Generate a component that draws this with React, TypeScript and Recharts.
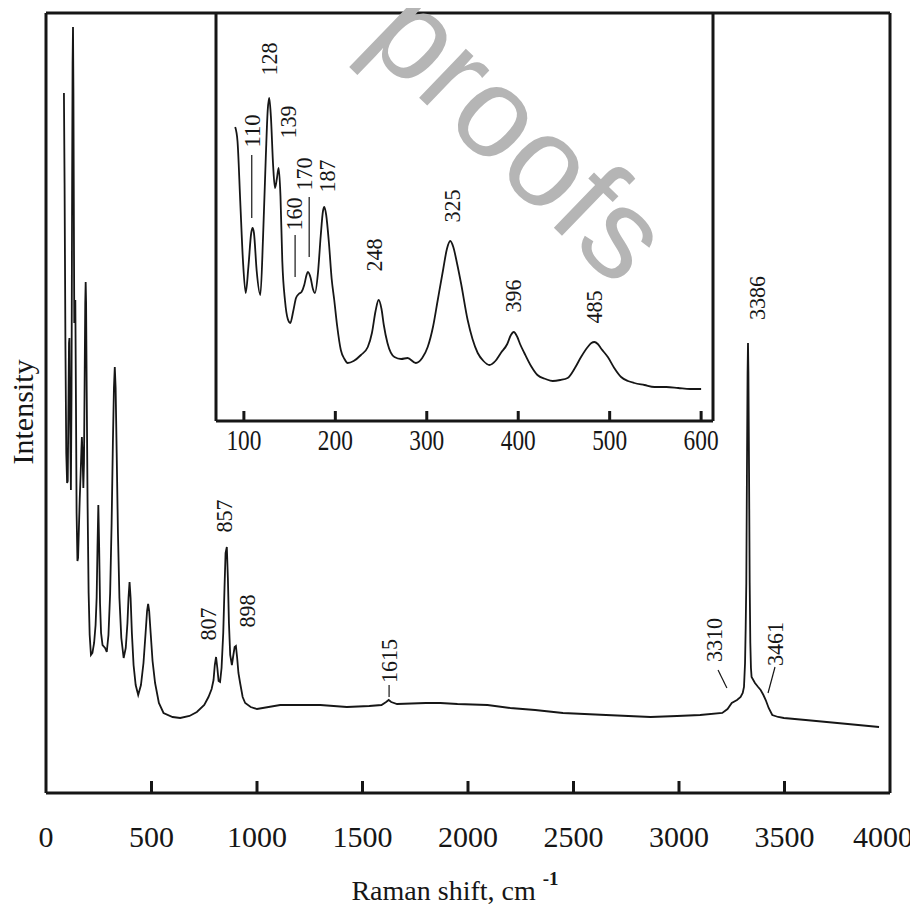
import { LineChart, Line, XAxis, YAxis, ReferenceDot, ReferenceLine } from "recharts";

// main spectrum, Raman shift (cm-1) vs intensity (arb.)
const mainShift = [
  85, 88, 92, 96, 100, 103, 106, 109, 111, 114, 118, 121, 124, 126, 128, 130, 132, 134, 136, 139,
  142, 145, 149, 152, 156, 160, 164, 168, 170, 173, 177, 180, 183, 186, 188, 190, 193, 197, 202, 207,
  213, 220, 228, 235, 240, 244, 248, 252, 256, 261, 268, 280, 288, 296, 304, 311, 317, 322, 326, 330,
  335, 341, 348, 357, 368, 378, 386, 391, 396, 401, 407, 415, 425, 437, 450, 462, 472, 479, 484, 489,
  496, 505, 517, 535, 557, 600, 636, 680, 715, 750, 770, 785, 794, 800, 806, 812, 818, 825, 832, 840,
  846, 851, 857, 862, 867, 873, 881, 888, 894, 900, 906, 912, 920, 932, 944, 970, 1000, 1110, 1200, 1300,
  1426, 1532, 1590, 1612, 1624, 1636, 1664, 1800, 1869, 1950, 2092, 2200, 2318, 2450, 2654, 2865, 2991, 3100, 3205, 3230,
  3250, 3275, 3292, 3302, 3308, 3313, 3316, 3319, 3322, 3325, 3327, 3329, 3332, 3335, 3338, 3341, 3344, 3360, 3375, 3387,
  3400, 3411, 3425, 3442, 3470, 3497, 3600, 3700, 3800, 3948,
];
const mainIntensity = [
  700, 610, 450, 340, 310, 312, 380, 450, 455, 380, 303, 400, 620, 730, 766, 700, 580, 470, 480, 493,
  390, 280, 232, 235, 265, 295, 318, 345, 356, 340, 305, 330, 410, 490, 511, 490, 400, 290, 200, 158,
  138, 140, 150, 168, 195, 245, 288, 245, 190, 160, 148, 145, 141, 158, 200, 270, 350, 405, 426, 405,
  340, 260, 195, 155, 135, 145, 170, 195, 211, 195, 160, 128, 108, 98, 108, 130, 160, 182, 189, 182,
  160, 132, 110, 90, 80, 76, 75, 77, 81, 88, 96, 104, 113, 128, 136, 125, 112, 111, 125, 160,
  205, 240, 246, 215, 170, 138, 128, 138, 146, 147, 135, 120, 110, 96, 90, 86, 84, 88, 88, 88,
  86, 87, 88, 91, 93, 91, 89, 90, 90, 89, 88, 85, 83, 80, 78, 76, 77, 78, 80, 84,
  90, 93, 96, 100, 106, 130, 165, 210, 320, 420, 450, 420, 320, 210, 150, 125, 116, 110, 106, 103,
  98, 93, 85, 78, 76, 75, 73, 71, 69, 66,
];

// inset, 90-600 cm-1
const insetShift = [
  90.5, 93, 96, 99, 102, 105, 108, 109.5, 111, 114, 118, 121, 124, 126, 127.7, 129.5, 132, 134, 136, 138,
  140, 142, 145, 148, 150.7, 154, 157, 160, 163, 166, 168.5, 170, 173, 175.5, 177.7, 181, 184, 186.5, 187.9, 190,
  193, 196, 198.8, 202, 206, 210, 213.4, 220, 228, 235.5, 240, 244, 247.3, 250.5, 253, 257, 264.6, 272, 279, 288,
  295, 301, 307, 312, 318, 322, 325.7, 329, 333, 337.4, 344.7, 350, 355.7, 362, 368.4, 375, 381, 388, 392, 395,
  399, 402, 406.7, 414, 421, 430, 437.7, 446, 454, 462, 468.7, 476, 480, 483.3, 487, 491, 498, 505, 512.5, 520,
  527, 538, 549, 562, 575, 588, 600,
];
const insetIntensity = [
  294, 280, 220, 160, 128, 155, 188, 193, 188, 150, 126, 185, 265, 310, 323, 305, 255, 233, 242, 253,
  225, 160, 120, 102, 98, 110, 123, 127, 129, 136, 146, 149, 143, 132, 128, 148, 185, 210, 214, 206,
  178, 142, 121, 95, 71, 62, 58, 60, 66, 74, 88, 110, 121, 112, 96, 78, 64, 62, 63, 58,
  63, 74, 95, 121, 152, 172, 180, 174, 158, 138, 101, 82, 68, 60, 56, 60, 68, 77, 86, 89,
  84, 77, 68, 55, 46, 42, 40, 41, 43, 53, 64, 74, 78, 79, 77, 72, 64, 53, 44, 40,
  38, 36, 34, 34, 33, 32, 32,
];

const mainTicks = [0, 500, 1000, 1500, 2000, 2500, 3000, 3500, 4000];
const insetTicks = [100, 200, 300, 400, 500, 600];

// peak annotations: text, anchor in data units
const mainLabels = [
  { text: "807", x: 768, y: 169 },
  { text: "857", x: 848, y: 277 },
  { text: "898", x: 957, y: 182 },
  { text: "1615", x: 1630, y: 132 },
  { text: "3310", x: 3166, y: 153 },
  { text: "3386", x: 3370, y: 495 },
  { text: "3461", x: 3455, y: 149 },
];
const mainLeaders = [
  [[1626, 108], [1626, 96]],
  [[3185, 123], [3227, 105]],
  [[3455, 126], [3422, 100]],
];
const insetLabels = [
  { text: "110", x: 108.9, y: 290 },
  { text: "128", x: 127.5, y: 362 },
  { text: "139", x: 148.4, y: 299 },
  { text: "160", x: 154.9, y: 207 },
  { text: "170", x: 165.9, y: 247 },
  { text: "187", x: 191.1, y: 245 },
  { text: "248", x: 242.6, y: 166 },
  { text: "325", x: 328, y: 215 },
  { text: "396", x: 394.8, y: 125 },
  { text: "485", x: 483.5, y: 114 },
];
const insetLeaders = [
  [[108.6, 266], [108.6, 203]],
  [[156, 186], [156, 144]],
  [[171.4, 224], [171.4, 164]],
];

const mainData = mainShift.map((x, i) => ({ x, y: mainIntensity[i] }));
const insetData = insetShift.map((x, i) => ({ x, y: insetIntensity[i] }));

const serif = "'Liberation Serif', 'Times New Roman', serif";
const ink = "#161616";
const frame = { stroke: ink, strokeWidth: 3 };

function MainTick(props: any) {
  const { x, y, payload } = props;
  const v = payload.value;
  return (
    <text x={v === 4000 ? x - 7 : x} y={y + 54} textAnchor="middle" fontSize={30} fontFamily={serif} fill={ink}>
      {v}
    </text>
  );
}

function InsetTick(props: any) {
  const { x, y, payload } = props;
  return (
    <text
      x={x}
      y={y + 29}
      textAnchor="middle"
      fontSize={29}
      fontFamily={serif}
      fill={ink}
      textLength={35}
      lengthAdjust="spacingAndGlyphs"
    >
      {payload.value}
    </text>
  );
}

const peakText = (text: string) => (p: any) => (
  <text
    x={p.cx}
    y={p.cy}
    transform={`rotate(-90 ${p.cx} ${p.cy})`}
    textAnchor="middle"
    dominantBaseline="central"
    fontSize={23}
    fontFamily={serif}
    fill={ink}
    textLength={text.length * 11}
    lengthAdjust="spacingAndGlyphs"
  >
    {text}
  </text>
);

export default function App() {
  return (
    <div style={{ position: "relative", width: 910, height: 903 }}>
      <LineChart width={910} height={903} data={mainData} margin={{ top: 4, left: 37, right: 27, bottom: 78 }}>
        <XAxis
          dataKey="x"
          type="number"
          domain={[0, 4000]}
          ticks={mainTicks}
          height={40}
          tickSize={0}
          tickMargin={0}
          tickLine={false}
          axisLine={frame}
          tick={<MainTick />}
          label={{
            content: (p: any) => {
              const vb = p.viewBox;
              return (
                <text x={vb.x + vb.width / 2 - 13} y={vb.y + 107} textAnchor="middle" fontSize={28} fontFamily={serif} fill={ink}>
                  Raman shift, cm{" "}
                  <tspan dy={-15} fontSize={19} fontWeight="bold">-1</tspan>
                </text>
              );
            },
          }}
        />
        <XAxis xAxisId="top" orientation="top" type="number" domain={[0, 4000]} height={1} tick={false} tickLine={false} axisLine={frame} />
        <YAxis
          type="number"
          domain={[0, 780]}
          width={1}
          tick={false}
          tickLine={false}
          axisLine={frame}
          label={{
            content: (p: any) => {
              const vb = p.viewBox;
              const cx = vb.x + vb.width - 13;
              const cy = vb.y + vb.height / 2 + 9;
              return (
                <text x={cx} y={cy} transform={`rotate(-90 ${cx} ${cy})`} textAnchor="middle" fontSize={30} fontFamily={serif} fill={ink}>
                  Intensity
                </text>
              );
            },
          }}
        />
        <YAxis yAxisId="r" orientation="right" type="number" domain={[0, 780]} width={1} tick={false} tickLine={false} axisLine={frame} />
        {mainTicks.slice(1, -1).map((t) => (
          <ReferenceLine
            key={`t${t}`}
            segment={[{ x: t, y: 1 }, { x: t, y: 12 }]}
            ifOverflow="visible"
            stroke={ink}
            strokeWidth={3}
          />
        ))}
        <Line type="linear" dataKey="y" stroke={ink} strokeWidth={1.8} dot={false} isAnimationActive={false} />
        {mainLabels.map((l) => (
          <ReferenceDot key={l.text} x={l.x} y={l.y} r={0} ifOverflow="visible" shape={peakText(l.text)} />
        ))}
        {mainLeaders.map((s, i) => (
          <ReferenceLine
            key={i}
            segment={[{ x: s[0][0], y: s[0][1] }, { x: s[1][0], y: s[1][1] }]}
            stroke={ink}
            strokeWidth={1.2}
          />
        ))}
      </LineChart>

      <div style={{ position: "absolute", left: 207, top: 5, width: 497, height: 408, background: "#fff" }} />
      <div style={{ position: "absolute", left: 188, top: 4 }}>
        <LineChart width={540} height={460} data={insetData} margin={{ top: 0, left: 19, right: 22, bottom: 11 }}>
          <XAxis
            dataKey="x"
            type="number"
            domain={[69.5, 613]}
            ticks={insetTicks}
            height={40}
            tickSize={0}
            tickMargin={0}
            tickLine={false}
            axisLine={frame}
            tick={<InsetTick />}
          />
          <XAxis xAxisId="top" orientation="top" type="number" domain={[69.5, 613]} height={1} tick={false} tickLine={false} axisLine={frame} />
          <YAxis type="number" domain={[0, 408]} width={1} tick={false} tickLine={false} axisLine={frame} />
          <YAxis yAxisId="r" orientation="right" type="number" domain={[0, 408]} width={1} tick={false} tickLine={false} axisLine={frame} />
          {insetTicks.map((t) => (
            <ReferenceLine
              key={`t${t}`}
              segment={[{ x: t, y: 1 }, { x: t, y: 10 }]}
              ifOverflow="visible"
              stroke={ink}
              strokeWidth={3}
            />
          ))}
          <Line type="monotone" dataKey="y" stroke={ink} strokeWidth={1.8} dot={false} isAnimationActive={false} />
          {insetLabels.map((l) => (
            <ReferenceDot key={l.text} x={l.x} y={l.y} r={0} ifOverflow="visible" shape={peakText(l.text)} />
          ))}
          {insetLeaders.map((s, i) => (
            <ReferenceLine
              key={i}
              segment={[{ x: s[0][0], y: s[0][1] }, { x: s[1][0], y: s[1][1] }]}
              stroke={ink}
              strokeWidth={1.2}
            />
          ))}
        </LineChart>
      </div>

      <div
        style={{
          position: "absolute",
          left: 512,
          top: 126,
          transform: "translate(-50%, -50%) rotate(44deg)",
          fontFamily: "'Liberation Sans', Arial, sans-serif",
          fontSize: 128,
          lineHeight: 1,
          color: "#b5b5b5",
          whiteSpace: "nowrap",
          pointerEvents: "none",
        }}
      >
        proofs
      </div>
    </div>
  );
}
